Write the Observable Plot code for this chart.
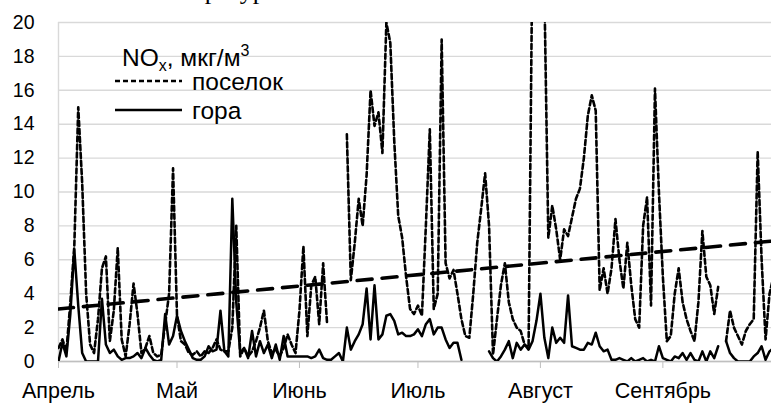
<!DOCTYPE html>
<html><head><meta charset="utf-8">
<script src="https://cdn.jsdelivr.net/npm/d3@7"></script>
<script src="https://cdn.jsdelivr.net/npm/@observablehq/plot@0.6"></script>
<style>
html,body{margin:0;padding:0;background:#fff;}
#wrap{position:relative;width:771px;height:403px;overflow:hidden;}
</style></head><body><div id="wrap"></div>
<script>
// ---- data (daily values from 1 April) ----
const startDay = "2019-04-01";
const poselok = [
  0.8, 1.3, 0.6, 3.5, 6.8, 15.0, 10.5, 4.0, 1.0, 0.5,
  2.5, 5.5, 6.2, 1.2, 3.0, 6.7, 1.3, 0.3, 2.2, 4.6,
  2.8, 0.5, 0.8, 1.5, 0.5, 0.3, 0.4, 2.2, 4.0, 11.4,
  2.7, 1.2, 1.0, 0.5, 0.4, 0.6, 0.3, 0.6, 0.5, 0.8,
  1.3, 0.7, 0.6, 0.6, 2.0, 8.0, 0.3, 0.8, 0.3, 0.6,
  1.2, 2.0, 3.0, 1.2, 0.5, 0.7, 0.3, 0.8, 1.6, 1.0,
  0.5, 3.0, 6.8, 1.5, 4.5, 5.0, 2.2, 5.8, 2.2, null,
  null, null, null, 13.4, 4.8, 7.0, 9.6, 8.0, 11.0, 16.0,
  13.9, 14.7, 12.3, 20.0, 18.8, 13.0, 8.6, 7.3, 5.0, 3.1,
  2.8, 3.3, 2.7, 8.0, 13.7, 3.1, 4.0, 19.0, 5.8, 4.9,
  5.4, 4.0, 2.5, 1.5, 1.4, 4.0, 7.0, 9.0, 11.1, 8.0,
  0.4, 2.5, 4.5, 5.8, 3.5, 2.5, 2.0, 1.8, 1.0, 0.8,
  25.0, 30.0, 28.0, 22.0, 7.3, 9.2, 7.8, 6.0, 7.8, 7.4,
  8.5, 9.6, 10.2, 12.0, 14.5, 15.7, 14.8, 4.2, 5.5, 4.0,
  5.5, 8.4, 6.0, 4.3, 7.0, 4.5, 2.5, 2.0, 8.0, 9.7,
  3.3, 16.1, 10.0, 5.0, 1.2, 1.5, 4.0, 5.5, 3.5, 2.5,
  1.8, 1.2, 3.5, 7.7, 5.0, 4.5, 2.8, 4.4, null, 1.2,
  3.0, 2.0, 1.5, 1.0, 1.8, 2.2, 2.5, 12.4, 6.0, 1.3,
  4.0, 5.0
];
const gora = [
  0.0, 1.1, 0.3, 2.8, 6.6, 3.3, 0.5, 0.0, 0.0, 0.0,
  0.0, 3.7, 1.0, 0.5, 0.7, 0.3, 0.1, 0.2, 0.2, 0.3,
  0.5, 0.2, 0.8, 0.4, 0.1, 0.0, 0.1, 2.8, 1.0, 1.5,
  2.7, 1.8, 1.2, 0.7, 0.2, 0.1, 0.1, 0.3, 0.9, 0.6,
  0.7, 3.0, 0.6, 0.3, 9.6, 3.5, 0.5, 0.8, 0.2, 1.8,
  0.3, 1.2, 0.5, 1.0, 0.2, 1.0, 0.1, 1.5, 0.3, 0.3,
  0.3, 0.3, 0.3, 0.3, 0.2, 0.3, 0.7, 0.2, 0.1, 0.1,
  0.3, 0.5, 0.0, 2.0, 0.7, 1.2, 1.6, 2.2, 4.3, 1.3,
  4.5, 1.3, 1.6, 2.7, 2.8, 2.4, 1.6, 1.7, 1.5, 1.5,
  1.6, 1.9, 1.5, 2.2, 2.5, 1.6, 2.0, 2.0, 1.3, 0.8,
  1.1, 1.1, 0.1, null, null, null, null, null, null, 0.6,
  0.2, 0.0, 0.3, 0.7, 1.2, 0.2, 1.1, 0.7, 1.0, 0.7,
  1.2, 2.4, 4.0, 1.4, 0.2, 2.0, 1.1, 1.4, 1.1, 3.9,
  0.9, 0.8, 0.7, 0.7, 1.1, 1.0, 1.7, 0.9, 0.6, 0.7,
  0.1, 0.1, 0.2, 0.1, 0.0, 0.2, 0.0, 0.1, 0.2, 0.0,
  0.1, 0.0, 0.9, 0.2, 0.1, 0.0, 0.3, 0.2, 0.5, 0.1,
  0.5, 0.1, 0.0, 0.6, 0.0, 0.6, 0.2, 0.9, null, 1.2,
  0.5, 0.2, 0.0, 0.0, 0.0, 0.0, 0.3, 0.5, 0.9, 0.1,
  0.6, 0.8
];
// linear trend of "поселок"
const trendDates = ["2019-04-01", "2019-09-28T12:00"];
const trendValues = [3.1, 7.1];
const monthTicks = ["2019-04-01", "2019-05-01", "2019-06-01", "2019-07-01", "2019-08-01", "2019-09-01"];
const monthLabels = ["Апрель", "Май", "Июнь", "Июль", "Август", "Сентябрь"];
const yTicks = [0, 2, 4, 6, 8, 10, 12, 14, 16, 18, 20];
const xDomain = ["2019-04-01", "2019-09-28T12:00"];
const legendTitle = ["NO", "x", ", мкг/м", "3"];
const legendLabels = ["поселок", "гора"];
const topText = "температура";

// ---- build ----
const toDate = d => new Date(d + (d.includes("T") ? "Z" : "T00:00Z"));
const t0 = toDate(startDay);
const rows = poselok.map((v, i) => ({date: d3.utcDay.offset(t0, i), poselok: v, gora: gora[i]}));
const trend = trendDates.map((d, i) => ({date: toDate(d), value: trendValues[i]}));
const ticks = monthTicks.map(toDate);
const dom = xDomain.map(toDate);
const font = "'Liberation Sans', Arial, sans-serif";

const chart = Plot.plot({
  width: 771, height: 403,
  marginTop: 22, marginBottom: 42, marginLeft: 58, marginRight: 0,
  style: {fontFamily: font, fontSize: "20px", color: "#000", background: "#fff"},
  x: {type: "utc", domain: dom},
  y: {domain: [0, 20]},
  marks: [
    Plot.gridY(yTicks, {stroke: "#d9d9d9", strokeOpacity: 1, strokeWidth: 1.4}),
    Plot.ruleX([dom[0]], {stroke: "#d9d9d9", strokeWidth: 1.4}),
    Plot.ruleY([0], {stroke: "#bfbfbf", strokeWidth: 1.4}),
    Plot.axisY(yTicks, {tickSize: 0, tickPadding: 24, fontSize: 19.5, tickFormat: d => String(d)}),
    Plot.axisX(ticks, {tickSize: 7, tickPadding: 14, fontSize: 21.5, stroke: "#bfbfbf", fill: "#000",
      tickFormat: d => monthLabels[ticks.findIndex(t => +t === +d)]}),
    Plot.lineY(rows, {x: "date", y: "gora", stroke: "#000", strokeWidth: 2.5, strokeLinejoin: "round", clip: true}),
    Plot.lineY(rows, {x: "date", y: "poselok", stroke: "#000", strokeWidth: 2.6, strokeDasharray: "5,3", strokeLinejoin: "round", clip: true}),
    Plot.line(trend, {x: "date", y: "value", stroke: "#000", strokeWidth: 3.6, strokeDasharray: "15,10", clip: true})
  ]
});
document.getElementById("wrap").appendChild(chart);

// legend + cut-off caption above the plot
const svg = d3.select(chart);
svg.append("text").attr("x", 140).attr("y", -1).attr("text-anchor", "start")
  .attr("font-family", "'Liberation Serif', 'Times New Roman', serif")
  .attr("font-size", 26).attr("fill", "#000").text(topText);
const lg = svg.append("g").attr("font-family", font).attr("fill", "#000").attr("text-anchor", "start");
const ttl = lg.append("text").attr("x", 122).attr("y", 66).attr("font-size", 24.5).attr("text-anchor", "start");
ttl.append("tspan").text(legendTitle[0]);
ttl.append("tspan").attr("font-size", 16).attr("dy", 5).text(legendTitle[1]);
ttl.append("tspan").attr("dy", -5).text(legendTitle[2]);
ttl.append("tspan").attr("font-size", 16).attr("dy", -10).text(legendTitle[3]);
const ys = [81, 110];
legendLabels.forEach((lab, i) => {
  lg.append("line").attr("x1", 115).attr("x2", 182).attr("y1", ys[i]).attr("y2", ys[i])
    .attr("stroke", "#000").attr("stroke-width", 2.5).attr("stroke-dasharray", i === 0 ? "5,3" : null);
  lg.append("text").attr("x", 192).attr("y", ys[i] + 9).attr("font-size", 24.5).attr("text-anchor", "start").text(lab);
});
</script></body></html>
